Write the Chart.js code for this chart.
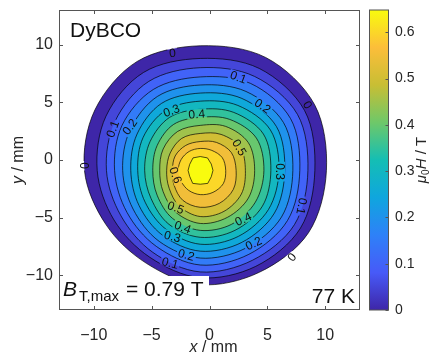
<!DOCTYPE html>
<html>
<head>
<meta charset="utf-8">
<script src="https://cdn.jsdelivr.net/npm/chart.js@4.4.1/dist/chart.umd.min.js"></script>
<style>
  html, body { margin: 0; padding: 0; background: #fff; }
</style>
</head>
<body>
<canvas id="map" width="432" height="355"></canvas>
<script>
// contour levels of mu0H in tesla
const levels = [0, 0.05, 0.1, 0.15, 0.2, 0.25, 0.3, 0.35, 0.4, 0.45, 0.5, 0.55, 0.6, 0.65];

// each contour is read as a radius (mm) at these angles around the peak
const angles = [0, 30, 60, 90, 120, 150, 180, 210, 240, 270, 300, 330];
const peak = [-0.8, -0.9];

const r00 = [10.9, 11.4, 11.3, 10.8, 10.9, 10.5, 10.0, 9.4, 9.3, 9.9, 10.2, 10.8];
const r05 = [9.9, 10.4, 10.2, 9.7, 9.8, 9.4, 8.9, 8.6, 8.7, 9.3, 9.6, 10.0];
const r10 = [9.3, 9.7, 9.4, 8.9, 8.9, 8.5, 8.1, 7.9, 8.2, 8.8, 9.0, 9.4];
const r15 = [8.6, 9.0, 8.7, 8.1, 8.1, 7.8, 7.4, 7.3, 7.6, 8.2, 8.4, 8.7];
const r20 = [8.0, 8.3, 7.9, 7.4, 7.4, 7.0, 6.7, 6.7, 7.1, 7.6, 7.8, 8.1];
const r25 = [7.3, 7.6, 7.2, 6.7, 6.7, 6.3, 6.0, 6.1, 6.5, 7.0, 7.2, 7.4];
const r30 = [6.8, 7.0, 6.5, 6.0, 6.0, 5.7, 5.4, 5.5, 5.9, 6.4, 6.6, 6.8];
const r35 = [6.1, 6.3, 5.8, 5.3, 5.3, 5.0, 4.8, 4.9, 5.4, 5.8, 6.0, 6.2];
const r40 = [5.5, 5.6, 5.1, 4.6, 4.6, 4.3, 4.1, 4.3, 4.8, 5.2, 5.4, 5.5];
const r45 = [4.7, 4.8, 4.4, 3.9, 3.9, 3.7, 3.5, 3.7, 4.2, 4.6, 4.7, 4.8];
const r50 = [3.9, 4.0, 3.6, 3.2, 3.2, 3.0, 2.9, 3.1, 3.6, 4.0, 4.1, 4.1];
const r55 = [3.1, 3.1, 2.8, 2.5, 2.5, 2.5, 2.4, 2.6, 3.0, 3.2, 3.3, 3.3];
const r60 = [2.2, 2.2, 2.0, 1.9, 1.9, 1.9, 1.9, 1.9, 2.0, 2.1, 2.2, 2.3];
const r65 = [1.1, 1.1, 1.25, 1.2, 1.25, 1.05, 1.05, 1.05, 1.3, 1.2, 1.3, 1.1];
const radii = [r00, r05, r10, r15, r20, r25, r30, r35, r40, r45, r50, r55, r60, r65];

// inline contour labels
const labelText = ['0', '0', '0', '0', '0.1', '0.2', '0.5', '0.3', '0.1', '0.4', '0.2',
                   '0.1', '0.2', '0.3', '0.4', '0.6', '0.5', '0.4', '0.3', '0.2', '0.1'];
const labelX = [-3.2, -10.8, 8.5, 7.1, 2.5, 4.6, 2.6, 6.1, 8.0, 2.9, 3.8,
                -8.4, -6.9, -3.3, -1.1, -2.9, -2.9, -2.3, -3.2, -2.0, -3.4];
const labelY = [9.3, -0.5, 4.8, -8.4, 7.2, 4.7, 1.1, -1.0, -4.0, -5.1, -7.2,
                2.7, 2.9, 4.3, 4.0, -1.3, -4.1, -5.8, -6.6, -8.2, -8.9];
const labelRot = [-5, -90, 60, -50, 20, 35, 60, 90, 100, -25, -25,
                  -70, -55, -20, -5, 70, 20, 20, 15, 15, 15];

const xTicks = [-10, -5, 0, 5, 10];
const yTicks = [-10, -5, 0, 5, 10];
const cbTicks = [0, 0.1, 0.2, 0.3, 0.4, 0.5, 0.6];
const axisMin = -13, axisMax = 13;
const cbMax = 0.648;

const FONT = '"Liberation Sans", Arial, Helvetica, sans-serif';
const INK = '#262626';

// approximate parula colormap
const parulaStops = [
  [0.000, 62, 38, 168],
  [0.125, 71, 90, 248],
  [0.250, 46, 129, 248],
  [0.375, 15, 166, 222],
  [0.500, 20, 190, 180],
  [0.625, 110, 200, 105],
  [0.750, 200, 190, 52],
  [0.875, 252, 190, 58],
  [1.000, 249, 251, 14]
];
function parula(t) {
  t = Math.max(0, Math.min(1, t));
  for (let i = 1; i < parulaStops.length; i++) {
    const a = parulaStops[i - 1], b = parulaStops[i];
    if (t <= b[0]) {
      const f = (t - a[0]) / (b[0] - a[0]);
      return 'rgb(' + [1, 2, 3].map(k => Math.round(a[k] + f * (b[k] - a[k]))).join(',') + ')';
    }
  }
  return 'rgb(249,251,14)';
}

function ring(r) {
  return angles.map((a, k) => ({
    x: peak[0] + r[k] * Math.cos(a * Math.PI / 180),
    y: peak[1] + r[k] * Math.sin(a * Math.PI / 180)
  }));
}

// closed curve through pixel points (smooth, or straight for the coarse peak)
function loopPath(ctx, p, straight) {
  const n = p.length;
  ctx.moveTo(p[0][0], p[0][1]);
  for (let i = 0; i < n; i++) {
    const p0 = p[(i - 1 + n) % n], p1 = p[i], p2 = p[(i + 1) % n], p3 = p[(i + 2) % n];
    if (straight) {
      ctx.lineTo(p2[0], p2[1]);
    } else {
      ctx.bezierCurveTo(
        p1[0] + (p2[0] - p0[0]) / 6, p1[1] + (p2[1] - p0[1]) / 6,
        p2[0] - (p3[0] - p1[0]) / 6, p2[1] - (p3[1] - p1[1]) / 6,
        p2[0], p2[1]);
    }
  }
  ctx.closePath();
}

function minus(v) {
  return v < 0 ? '\u2212' + Math.abs(v) : String(v);
}

const contourPlugin = {
  id: 'contour',
  beforeDatasetsDraw(chart) {
    const { ctx, chartArea: a, scales } = chart;
    const sets = chart.data.datasets;
    const loops = sets.map((ds, i) =>
      chart.getDatasetMeta(i).data.map(p => [p.x, p.y]));

    ctx.save();
    ctx.beginPath();
    ctx.rect(a.left, a.top, a.right - a.left, a.bottom - a.top);
    ctx.clip();

    // filled bands, outermost first
    sets.forEach((ds, i) => {
      ctx.beginPath();
      loopPath(ctx, loops[i], ds.straight);
      ctx.fillStyle = parula(ds.level / cbMax);
      ctx.fill();
    });

    // contour lines, broken where the labels sit
    ctx.font = '12px ' + FONT;
    ctx.save();
    ctx.beginPath();
    ctx.rect(a.left, a.top, a.right - a.left, a.bottom - a.top);
    labelText.forEach((t, i) => {
      const px = scales.x.getPixelForValue(labelX[i]);
      const py = scales.y.getPixelForValue(labelY[i]);
      const w = ctx.measureText(t).width + 3, h = 10;
      const c = Math.cos(labelRot[i] * Math.PI / 180), s = Math.sin(labelRot[i] * Math.PI / 180);
      const pts = [[-w / 2, -h / 2], [w / 2, -h / 2], [w / 2, h / 2], [-w / 2, h / 2]]
        .map(([u, v]) => [px + u * c - v * s, py + u * s + v * c]);
      ctx.moveTo(pts[0][0], pts[0][1]);
      for (let k = 1; k < 4; k++) ctx.lineTo(pts[k][0], pts[k][1]);
      ctx.closePath();
    });
    ctx.clip('evenodd');
    ctx.strokeStyle = 'rgba(0,0,0,0.85)';
    ctx.lineWidth = 0.8;
    loops.forEach((p, i) => {
      ctx.beginPath();
      loopPath(ctx, p, sets[i].straight);
      ctx.stroke();
    });
    ctx.restore();

    // labels
    ctx.fillStyle = '#111';
    ctx.textAlign = 'center';
    ctx.textBaseline = 'middle';
    labelText.forEach((t, i) => {
      ctx.save();
      ctx.translate(scales.x.getPixelForValue(labelX[i]), scales.y.getPixelForValue(labelY[i]));
      ctx.rotate(labelRot[i] * Math.PI / 180);
      ctx.fillText(t, 0, 1);
      ctx.restore();
    });
    ctx.restore();
  },
  afterDraw(chart) {
    const { ctx, chartArea: a, scales } = chart;
    ctx.save();

    // white box behind the field value note
    ctx.fillStyle = '#fff';
    ctx.fillRect(a.left + 1, a.bottom - 34, 149, 33);

    ctx.fillStyle = '#111';
    ctx.textAlign = 'left';
    ctx.textBaseline = 'alphabetic';
    ctx.font = '21px ' + FONT;
    ctx.fillText('DyBCO', a.left + 11, a.top + 27);
    ctx.font = 'italic 21px ' + FONT;
    ctx.fillText('B', a.left + 4, a.bottom - 14);
    ctx.font = '15px ' + FONT;
    ctx.fillText('T,max', a.left + 20, a.bottom - 9);
    ctx.font = '21px ' + FONT;
    ctx.fillText('= 0.79 T', a.left + 67, a.bottom - 14);
    ctx.textAlign = 'right';
    ctx.fillText('77 K', a.right - 5, a.bottom - 7);

    // axes box with inward ticks on all sides
    ctx.strokeStyle = '#555';
    ctx.lineWidth = 1;
    ctx.strokeRect(a.left + 0.5, a.top + 0.5, a.right - a.left - 1, a.bottom - a.top - 1);
    ctx.beginPath();
    xTicks.forEach(v => {
      const px = Math.round(scales.x.getPixelForValue(v)) + 0.5;
      ctx.moveTo(px, a.bottom); ctx.lineTo(px, a.bottom - 4);
      ctx.moveTo(px, a.top); ctx.lineTo(px, a.top + 4);
    });
    yTicks.forEach(v => {
      const py = Math.round(scales.y.getPixelForValue(v)) + 0.5;
      ctx.moveTo(a.left, py); ctx.lineTo(a.left + 4, py);
      ctx.moveTo(a.right, py); ctx.lineTo(a.right - 4, py);
    });
    ctx.stroke();

    // colorbar
    const cb = scales.cb;
    const bx = a.right + 9.5, bw = 19;
    const yTop = cb.getPixelForValue(cbMax), yBot = cb.getPixelForValue(0);
    const grad = ctx.createLinearGradient(0, yBot, 0, yTop);
    parulaStops.forEach(s => grad.addColorStop(s[0], parula(s[0])));
    ctx.fillStyle = grad;
    ctx.fillRect(bx, yTop, bw, yBot - yTop);
    ctx.strokeRect(bx, yTop, bw, yBot - yTop);
    ctx.beginPath();
    cbTicks.forEach(v => {
      const py = Math.round(cb.getPixelForValue(v)) + 0.5;
      ctx.moveTo(bx + bw, py); ctx.lineTo(bx + bw - 3, py);
    });
    ctx.stroke();

    // axis titles
    ctx.fillStyle = INK;
    ctx.textBaseline = 'alphabetic';
    const cx = (a.left + a.right) / 2 + 4;
    ctx.font = '16px ' + FONT;
    const rest = ' / mm';
    const wRest = ctx.measureText(rest).width;
    ctx.font = 'italic 16px ' + FONT;
    const wX = ctx.measureText('x').width;
    let x0 = cx - (wX + wRest) / 2;
    ctx.textAlign = 'left';
    ctx.fillText('x', x0, 352);
    ctx.font = '16px ' + FONT;
    ctx.fillText(rest, x0 + wX, 352);

    ctx.save();
    ctx.translate(23, (a.top + a.bottom) / 2);
    ctx.rotate(-Math.PI / 2);
    ctx.font = 'italic 16px ' + FONT;
    const wY = ctx.measureText('y').width;
    x0 = -(wY + wRest) / 2;
    ctx.fillText('y', x0, 0);
    ctx.font = '16px ' + FONT;
    ctx.fillText(rest, x0 + wY, 0);
    ctx.restore();

    ctx.save();
    ctx.translate(426, (a.top + a.bottom) / 2);
    ctx.rotate(-Math.PI / 2);
    ctx.font = 'italic 15px ' + FONT;
    const wMu = ctx.measureText('\u03bc').width;
    ctx.font = '10px ' + FONT;
    const w0 = ctx.measureText('0').width;
    ctx.font = 'italic 15px ' + FONT;
    const wH = ctx.measureText('H').width;
    ctx.font = '15px ' + FONT;
    const wT = ctx.measureText(' / T').width;
    x0 = -(wMu + w0 + wH + wT) / 2;
    ctx.font = 'italic 15px ' + FONT;
    ctx.fillText('\u03bc', x0, 0);
    ctx.font = '10px ' + FONT;
    ctx.fillText('0', x0 + wMu, 3);
    ctx.font = 'italic 15px ' + FONT;
    ctx.fillText('H', x0 + wMu + w0, 0);
    ctx.font = '15px ' + FONT;
    ctx.fillText(' / T', x0 + wMu + w0 + wH, 0);
    ctx.restore();

    ctx.restore();
  }
};

const tickFont = { family: FONT, size: 16 };
const hiddenTicks = length => ({
  display: true, drawOnChartArea: false, drawTicks: true,
  tickLength: length, color: 'rgba(0,0,0,0)'
});

new Chart(document.getElementById('map'), {
  type: 'scatter',
  data: {
    datasets: levels.map((lv, i) => ({
      label: 'mu0H = ' + lv + ' T',
      level: lv,
      straight: i === levels.length - 1,
      data: ring(radii[i]),
      showLine: false,
      pointRadius: 0,
      pointHoverRadius: 0
    }))
  },
  options: {
    responsive: false,
    animation: false,
    devicePixelRatio: 1,
    events: [],
    layout: { padding: { top: 10, left: 0, right: 0, bottom: 0 } },
    plugins: { legend: { display: false }, tooltip: { enabled: false } },
    scales: {
      x: {
        type: 'linear', min: axisMin, max: axisMax,
        afterBuildTicks: s => { s.ticks = xTicks.map(v => ({ value: v })); },
        afterFit: s => { s.height = 45; },
        grid: { display: false }, border: { display: false },
        ticks: { font: tickFont, color: INK, padding: 8, maxRotation: 0, callback: minus }
      },
      y: {
        type: 'linear', position: 'left', min: axisMin, max: axisMax,
        afterBuildTicks: s => { s.ticks = yTicks.map(v => ({ value: v })); },
        afterFit: s => { s.width = 59; },
        grid: hiddenTicks(6), border: { display: false },
        ticks: { font: tickFont, color: INK, padding: 0, callback: minus }
      },
      cb: {
        type: 'linear', position: 'right', min: 0, max: cbMax,
        afterBuildTicks: s => { s.ticks = cbTicks.map(v => ({ value: v })); },
        afterFit: s => { s.width = 72; },
        grid: hiddenTicks(35), border: { display: false },
        ticks: { font: { family: FONT, size: 14 }, color: INK, padding: 0, autoSkip: false,
                 callback: v => v === 0 ? '0' : v.toFixed(1) }
      }
    }
  },
  plugins: [contourPlugin]
});
</script>
</body>
</html>
